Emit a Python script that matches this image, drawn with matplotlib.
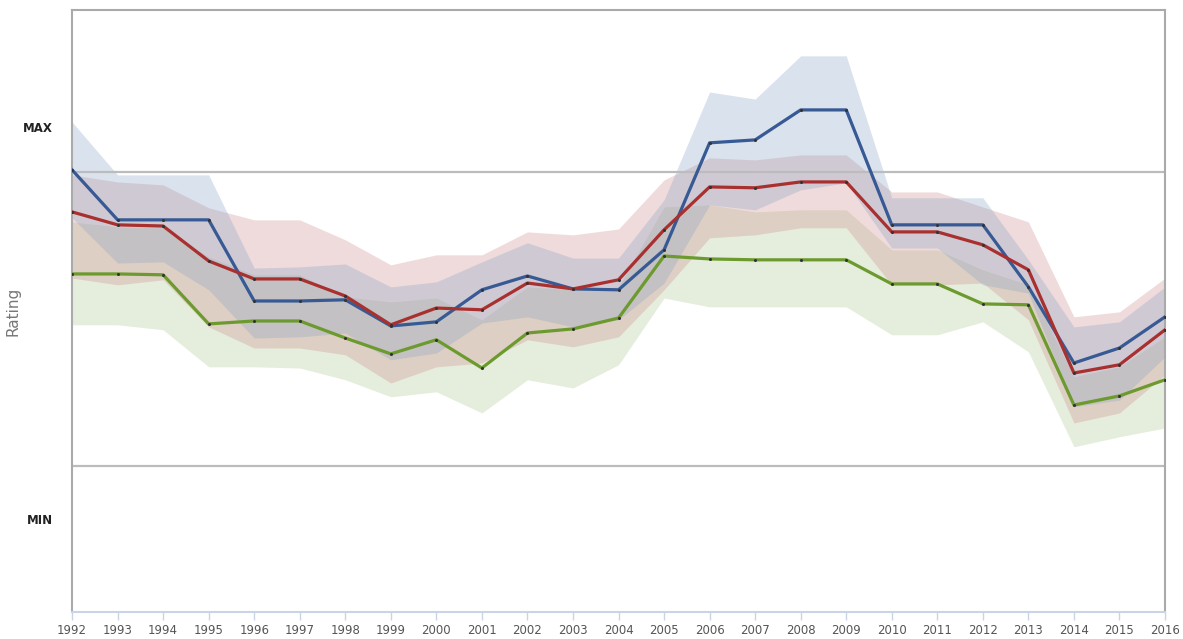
import numpy as np
import matplotlib
matplotlib.use('Agg')
import matplotlib.pyplot as plt

# ── data (rating scale: MIN line = 0, MAX line = 100) ─────────────────
years = list(range(1992, 2017))

blue_mid = [100.7, 83.7, 83.7, 83.7, 56.1, 56.1, 56.5, 47.6, 49.0, 59.9, 64.6, 60.2, 59.9,
            73.5, 109.9, 110.9, 121.1, 121.1, 82.0, 82.0, 82.0, 60.9, 35.0, 40.1, 50.7]
blue_hi = [117.0, 99.0, 99.0, 99.0, 67.3, 67.7, 68.7, 60.9, 62.6, 69.4, 75.9, 70.7, 70.7,
           90.5, 127.2, 124.8, 139.5, 139.5, 91.2, 91.2, 91.2, 70.1, 47.3, 49.0, 60.9]
blue_lo = [84.4, 69.0, 69.4, 59.9, 43.5, 43.9, 45.2, 36.1, 38.4, 48.6, 50.7, 47.3, 49.7,
           62.2, 88.8, 87.1, 93.9, 96.3, 74.1, 74.1, 61.6, 58.8, 20.1, 22.4, 37.1]

red_mid = [86.4, 82.0, 81.6, 69.7, 63.6, 63.6, 57.8, 48.0, 53.7, 53.1, 62.2, 60.2, 63.3,
           80.3, 94.9, 94.6, 96.6, 96.6, 79.6, 79.6, 75.2, 66.7, 31.6, 34.4, 46.3]
red_hi = [99.0, 96.6, 95.6, 87.8, 83.7, 83.7, 76.9, 68.4, 71.8, 71.8, 79.6, 78.6, 80.6,
          97.3, 104.8, 104.1, 105.8, 105.8, 93.2, 93.2, 88.1, 83.0, 50.7, 52.4, 63.9]
red_lo = [63.9, 61.6, 63.3, 47.3, 40.1, 40.1, 37.8, 28.2, 33.7, 35.0, 42.9, 40.5, 43.9,
          59.9, 77.6, 78.6, 81.0, 81.0, 61.6, 61.6, 62.2, 49.7, 14.6, 18.0, 31.0]

green_mid = [65.3, 65.3, 65.0, 48.3, 49.3, 49.3, 43.5, 38.1, 42.9, 33.3, 45.2, 46.6, 50.3,
             71.4, 70.4, 70.1, 70.1, 70.1, 61.9, 61.9, 55.1, 54.8, 20.7, 23.8, 29.3]
green_hi = [83.0, 81.3, 81.0, 71.1, 65.0, 65.0, 57.5, 55.8, 57.1, 49.7, 60.9, 59.9, 60.9,
            88.1, 88.8, 86.4, 87.1, 87.1, 73.5, 73.5, 66.7, 61.6, 30.3, 33.7, 43.9]
green_lo = [48.0, 48.0, 46.3, 33.7, 33.7, 33.3, 29.3, 23.5, 25.2, 18.0, 29.3, 26.5, 34.4,
            57.1, 54.1, 54.1, 54.1, 54.1, 44.6, 44.6, 49.0, 38.8, 6.5, 9.9, 12.9]

ref_lines = [100, 0]
tick_pos = [115.3, -18.0]
tick_text = ['MAX', 'MIN']

series = [
    (green_mid, green_lo, green_hi, '#6c9a2e', '#acc68e'),
    (red_mid, red_lo, red_hi, '#a8302f', '#cd8a8a'),
    (blue_mid, blue_lo, blue_hi, '#375a94', '#87a2c6'),
]

# ── figure ────────────────────────────────────────────────────────────
fig = plt.figure(figsize=(11.83, 6.39), dpi=100)
ax = fig.add_axes([0.0609, 0.0423, 0.9239, 0.9421])

for mid, lo, hi, lc, fc in series:
    ax.fill_between(years, lo, hi, color=fc, alpha=0.3, linewidth=0, zorder=1)

for y in ref_lines:
    ax.axhline(y, color='#bcbcbc', linewidth=1.6, zorder=2)

for mid, lo, hi, lc, fc in series[::-1]:
    ax.plot(years, mid, color=lc, linewidth=2.3, zorder=3,
            marker='o', markersize=2.2, markerfacecolor='#333333',
            markeredgewidth=0)

ax.set_xlim(1992, 2016)
ax.set_ylim(-49.7, 155.1)
ax.set_xticks(years)
ax.set_xticklabels([str(y) for y in years], fontsize=8.5, color='#555555')
ax.tick_params(axis='x', length=6, width=1, color='#c9d5e6', pad=3)

ax.set_yticks(tick_pos)
ax.set_yticklabels(tick_text, fontsize=8.5, fontweight='bold', color='#222222')
ax.tick_params(axis='y', length=0, pad=14)
ax.set_ylabel('Rating', fontsize=11, color='#777777')
ax.yaxis.set_label_coords(-0.047, 0.5)

for side in ['left', 'right', 'top']:
    ax.spines[side].set_color('#aaaaaa')
    ax.spines[side].set_linewidth(1.5)
ax.spines['bottom'].set_color('#c9d5e6')
ax.spines['bottom'].set_linewidth(1.5)

fig.savefig('out.png', dpi=100)
